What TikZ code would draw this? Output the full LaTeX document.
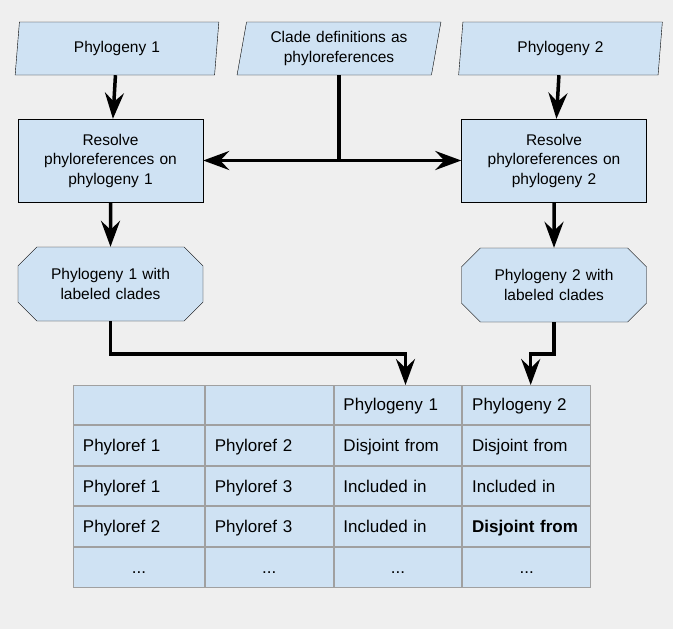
\documentclass[tikz,border=0pt]{standalone}
\usepackage{fontspec}
\setmainfont{Liberation Sans}
\usetikzlibrary{shapes.geometric,shapes.misc,arrows.meta,matrix}
\definecolor{bgc}{RGB}{239, 239, 239}
\definecolor{boxc}{RGB}{207, 226, 243}
\definecolor{gridc}{RGB}{160, 160, 160}

\begin{document}
\begin{tikzpicture}[x=1pt, y=-1pt]
    \tikzstyle{inblock} = [trapezium, trapezium left angle=76, trapezium right angle=104,
    trapezium stretches=true, draw=black, fill=boxc, minimum width=204pt, minimum height=53pt,
    text width=165pt, align=center, inner sep=0pt, font=\fontsize{15.5}{19.5}\selectfont];
    \tikzstyle{resblock} = [rectangle, draw=black, fill=boxc, minimum width=185pt, minimum height=83pt,
    text width=170pt, align=center, inner sep=0pt, font=\fontsize{15.5}{19.5}\selectfont];
    \tikzstyle{outblock} = [chamfered rectangle, chamfered rectangle xsep=19pt, draw=black, fill=boxc,
    minimum width=185pt, minimum height=74pt, text width=140pt, align=center, inner sep=0pt,
    font=\fontsize{15.5}{19.5}\selectfont];
    \tikzstyle{cell} = [rectangle, draw=gridc, line width=1pt, fill=boxc, outer sep=0pt,
    minimum width=127.7pt, minimum height=39.6pt, text width=109pt, inner xsep=9.3pt,
    text height=13pt, text depth=1pt, align=left, font=\fontsize{17}{20}\selectfont];
    \tikzstyle{firstcell} = [cell, minimum width=131pt, text width=112pt];
    \tikzstyle{dotcell} = [cell, align=center];
    \tikzstyle{line} = [draw, line width=3.5pt, -{Stealth[length=26pt, width=19pt, inset=9pt]}];

    \fill [bgc] (0,0) rectangle (673,629);

    % Inputs
    \node [inblock] (phy1) at (117,48.5) {Phylogeny 1};
    \node [inblock] (clade) at (339,48.5) {Clade definitions as\\phyloreferences};
    \node [inblock] (phy2) at (560.5,48.5) {Phylogeny 2};
    % Resolution
    \node [resblock] (res1) at (110.5,160.5) {Resolve\\phyloreferences on\\phylogeny 1};
    \node [resblock] (res2) at (554,160.5) {Resolve\\phyloreferences on\\phylogeny 2};
    % Outputs
    \node [outblock] (lab1) at (110.5,284) {Phylogeny 1 with\\labeled clades};
    \node [outblock] (lab2) at (554,285) {Phylogeny 2 with\\labeled clades};

    \matrix (tab) at (332,486) [column sep=0pt, row sep=0pt, inner sep=0pt, ampersand replacement=\&]
      {
       % Row 1
       \node [firstcell] (c11) {}; \& \node [cell] (c12) {}; \&
       \node [cell] (c13) {Phylogeny 1}; \& \node [cell] (c14) {Phylogeny 2}; \\
       % Row 2
       \node [firstcell] (c21) {Phyloref 1}; \& \node [cell] (c22) {Phyloref 2}; \&
       \node [cell] (c23) {Disjoint from}; \& \node [cell] (c24) {Disjoint from}; \\
       % Row 3
       \node [firstcell] (c31) {Phyloref 1}; \& \node [cell] (c32) {Phyloref 3}; \&
       \node [cell] (c33) {Included in}; \& \node [cell] (c34) {Included in}; \\
       % Row 4
       \node [firstcell] (c41) {Phyloref 2}; \& \node [cell] (c42) {Phyloref 3}; \&
       \node [cell] (c43) {Included in}; \& \node [cell] (c44) {\textbf{Disjoint from}}; \\
       % Row 5
       \node [firstcell, align=center] (c51) {...}; \& \node [dotcell] (c52) {...}; \&
       \node [dotcell] (c53) {...}; \& \node [dotcell] (c54) {...}; \\
      };

    \tikzstyle{every path}=[line]
      % Drawing the links
      \draw (phy1) -- (res1);
      \draw (phy2) -- (res2);
      \draw (clade) |- (res1.east);
      \draw (clade) |- (res2.west);
      \draw (res1) -- (lab1);
      \draw (res2) -- (lab2);
      \draw (lab1.south) -- ++(0,33) -| ([xshift=7.5pt]c13.north);
      \draw (lab2.south) -- ++(0,32) -| ([xshift=4pt]c14.north);
\end{tikzpicture}
\end{document}
